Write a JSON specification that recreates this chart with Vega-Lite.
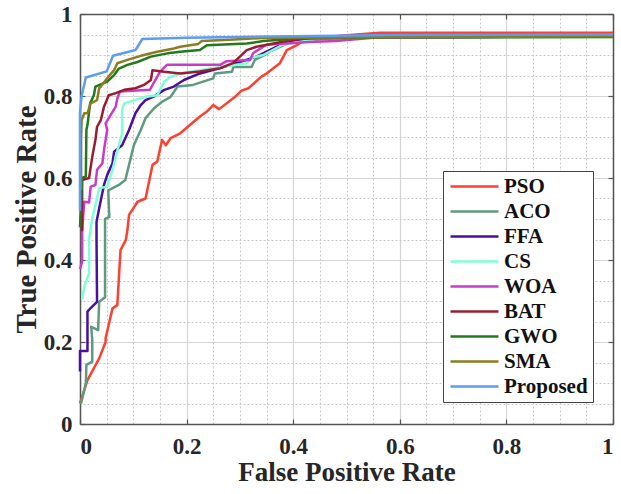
{
  "$schema": "https://vega.github.io/schema/vega-lite/v6.json",
  "width": 533,
  "height": 410,
  "autosize": {"type": "none"},
  "padding": {"left": 80, "top": 14, "right": 8, "bottom": 70},
  "background": "white",
  "config": {
    "view": {"stroke": null},
    "font": "Liberation Serif"
  },
  "data": {"values": [
    {"s":"PSO","i":1,"x":0,"y":0.05},{"s":"PSO","i":2,"x":0.014,"y":0.107},{"s":"PSO","i":3,"x":0.036,"y":0.16},{"s":"PSO","i":4,"x":0.048,"y":0.2},{"s":"PSO","i":5,"x":0.048,"y":0.209},{"s":"PSO","i":6,"x":0.061,"y":0.282},{"s":"PSO","i":7,"x":0.07,"y":0.29},{"s":"PSO","i":8,"x":0.076,"y":0.424},{"s":"PSO","i":9,"x":0.086,"y":0.449},{"s":"PSO","i":10,"x":0.089,"y":0.473},{"s":"PSO","i":11,"x":0.092,"y":0.51},{"s":"PSO","i":12,"x":0.108,"y":0.542},{"s":"PSO","i":13,"x":0.123,"y":0.55},{"s":"PSO","i":14,"x":0.136,"y":0.632},{"s":"PSO","i":15,"x":0.145,"y":0.64},{"s":"PSO","i":16,"x":0.154,"y":0.693},{"s":"PSO","i":17,"x":0.161,"y":0.68},{"s":"PSO","i":18,"x":0.17,"y":0.697},{"s":"PSO","i":19,"x":0.188,"y":0.709},{"s":"PSO","i":20,"x":0.225,"y":0.75},{"s":"PSO","i":21,"x":0.238,"y":0.762},{"s":"PSO","i":22,"x":0.25,"y":0.778},{"s":"PSO","i":23,"x":0.261,"y":0.768},{"s":"PSO","i":24,"x":0.291,"y":0.798},{"s":"PSO","i":25,"x":0.303,"y":0.813},{"s":"PSO","i":26,"x":0.316,"y":0.819},{"s":"PSO","i":27,"x":0.341,"y":0.848},{"s":"PSO","i":28,"x":0.35,"y":0.855},{"s":"PSO","i":29,"x":0.375,"y":0.88},{"s":"PSO","i":30,"x":0.388,"y":0.912},{"s":"PSO","i":31,"x":0.407,"y":0.924},{"s":"PSO","i":32,"x":0.422,"y":0.937},{"s":"PSO","i":33,"x":0.444,"y":0.942},{"s":"PSO","i":34,"x":0.5,"y":0.948},{"s":"PSO","i":35,"x":0.563,"y":0.954},{"s":"PSO","i":36,"x":1,"y":0.954},

    {"s":"ACO","i":1,"x":0.002,"y":0.05},{"s":"ACO","i":2,"x":0.011,"y":0.1},{"s":"ACO","i":3,"x":0.012,"y":0.144},{"s":"ACO","i":4,"x":0.023,"y":0.152},{"s":"ACO","i":5,"x":0.023,"y":0.205},{"s":"ACO","i":6,"x":0.021,"y":0.237},{"s":"ACO","i":7,"x":0.034,"y":0.229},{"s":"ACO","i":8,"x":0.036,"y":0.298},{"s":"ACO","i":9,"x":0.047,"y":0.309},{"s":"ACO","i":10,"x":0.047,"y":0.5},{"s":"ACO","i":11,"x":0.055,"y":0.505},{"s":"ACO","i":12,"x":0.053,"y":0.57},{"s":"ACO","i":13,"x":0.073,"y":0.583},{"s":"ACO","i":14,"x":0.085,"y":0.595},{"s":"ACO","i":15,"x":0.092,"y":0.632},{"s":"ACO","i":16,"x":0.101,"y":0.68},{"s":"ACO","i":17,"x":0.114,"y":0.717},{"s":"ACO","i":18,"x":0.123,"y":0.746},{"s":"ACO","i":19,"x":0.139,"y":0.77},{"s":"ACO","i":20,"x":0.154,"y":0.786},{"s":"ACO","i":21,"x":0.17,"y":0.798},{"s":"ACO","i":22,"x":0.183,"y":0.823},{"s":"ACO","i":23,"x":0.212,"y":0.827},{"s":"ACO","i":24,"x":0.231,"y":0.835},{"s":"ACO","i":25,"x":0.25,"y":0.843},{"s":"ACO","i":26,"x":0.253,"y":0.855},{"s":"ACO","i":27,"x":0.285,"y":0.859},{"s":"ACO","i":28,"x":0.288,"y":0.871},{"s":"ACO","i":29,"x":0.322,"y":0.871},{"s":"ACO","i":30,"x":0.328,"y":0.888},{"s":"ACO","i":31,"x":0.347,"y":0.9},{"s":"ACO","i":32,"x":0.356,"y":0.908},{"s":"ACO","i":33,"x":0.4,"y":0.935},{"s":"ACO","i":34,"x":0.5,"y":0.942},{"s":"ACO","i":35,"x":1,"y":0.946},

    {"s":"FFA","i":1,"x":0,"y":0.128},{"s":"FFA","i":2,"x":0,"y":0.178},{"s":"FFA","i":3,"x":0.014,"y":0.178},{"s":"FFA","i":4,"x":0.014,"y":0.274},{"s":"FFA","i":5,"x":0.018,"y":0.28},{"s":"FFA","i":6,"x":0.032,"y":0.298},{"s":"FFA","i":7,"x":0.031,"y":0.449},{"s":"FFA","i":8,"x":0.031,"y":0.493},{"s":"FFA","i":9,"x":0.036,"y":0.526},{"s":"FFA","i":10,"x":0.045,"y":0.583},{"s":"FFA","i":11,"x":0.051,"y":0.607},{"s":"FFA","i":12,"x":0.061,"y":0.636},{"s":"FFA","i":13,"x":0.064,"y":0.664},{"s":"FFA","i":14,"x":0.079,"y":0.68},{"s":"FFA","i":15,"x":0.092,"y":0.717},{"s":"FFA","i":16,"x":0.104,"y":0.758},{"s":"FFA","i":17,"x":0.114,"y":0.778},{"s":"FFA","i":18,"x":0.123,"y":0.79},{"s":"FFA","i":19,"x":0.139,"y":0.799},{"s":"FFA","i":20,"x":0.158,"y":0.815},{"s":"FFA","i":21,"x":0.176,"y":0.823},{"s":"FFA","i":22,"x":0.195,"y":0.839},{"s":"FFA","i":23,"x":0.225,"y":0.855},{"s":"FFA","i":24,"x":0.263,"y":0.868},{"s":"FFA","i":25,"x":0.3,"y":0.883},{"s":"FFA","i":26,"x":0.331,"y":0.896},{"s":"FFA","i":27,"x":0.35,"y":0.908},{"s":"FFA","i":28,"x":0.375,"y":0.924},{"s":"FFA","i":29,"x":0.407,"y":0.937},{"s":"FFA","i":30,"x":0.5,"y":0.942},{"s":"FFA","i":31,"x":1,"y":0.946},

    {"s":"CS","i":1,"x":0.004,"y":0.304},{"s":"CS","i":2,"x":0.008,"y":0.335},{"s":"CS","i":3,"x":0.017,"y":0.367},{"s":"CS","i":4,"x":0.017,"y":0.449},{"s":"CS","i":5,"x":0.023,"y":0.502},{"s":"CS","i":6,"x":0.032,"y":0.55},{"s":"CS","i":7,"x":0.036,"y":0.575},{"s":"CS","i":8,"x":0.051,"y":0.579},{"s":"CS","i":9,"x":0.061,"y":0.62},{"s":"CS","i":10,"x":0.067,"y":0.652},{"s":"CS","i":11,"x":0.073,"y":0.68},{"s":"CS","i":12,"x":0.079,"y":0.709},{"s":"CS","i":13,"x":0.079,"y":0.766},{"s":"CS","i":14,"x":0.083,"y":0.782},{"s":"CS","i":15,"x":0.123,"y":0.798},{"s":"CS","i":16,"x":0.145,"y":0.802},{"s":"CS","i":17,"x":0.158,"y":0.835},{"s":"CS","i":18,"x":0.17,"y":0.847},{"s":"CS","i":19,"x":0.188,"y":0.855},{"s":"CS","i":20,"x":0.244,"y":0.867},{"s":"CS","i":21,"x":0.281,"y":0.874},{"s":"CS","i":22,"x":0.313,"y":0.88},{"s":"CS","i":23,"x":0.322,"y":0.893},{"s":"CS","i":24,"x":0.344,"y":0.9},{"s":"CS","i":25,"x":0.38,"y":0.925},{"s":"CS","i":26,"x":0.45,"y":0.94},{"s":"CS","i":27,"x":0.6,"y":0.944},{"s":"CS","i":28,"x":1,"y":0.944},

    {"s":"WOA","i":1,"x":0,"y":0.378},{"s":"WOA","i":2,"x":0.004,"y":0.396},{"s":"WOA","i":3,"x":0.004,"y":0.473},{"s":"WOA","i":4,"x":0.008,"y":0.542},{"s":"WOA","i":5,"x":0.017,"y":0.54},{"s":"WOA","i":6,"x":0.02,"y":0.579},{"s":"WOA","i":7,"x":0.029,"y":0.583},{"s":"WOA","i":8,"x":0.032,"y":0.62},{"s":"WOA","i":9,"x":0.042,"y":0.636},{"s":"WOA","i":10,"x":0.045,"y":0.668},{"s":"WOA","i":11,"x":0.051,"y":0.717},{"s":"WOA","i":12,"x":0.048,"y":0.733},{"s":"WOA","i":13,"x":0.067,"y":0.774},{"s":"WOA","i":14,"x":0.07,"y":0.794},{"s":"WOA","i":15,"x":0.075,"y":0.811},{"s":"WOA","i":16,"x":0.131,"y":0.815},{"s":"WOA","i":17,"x":0.15,"y":0.859},{"s":"WOA","i":18,"x":0.163,"y":0.876},{"s":"WOA","i":19,"x":0.263,"y":0.876},{"s":"WOA","i":20,"x":0.275,"y":0.885},{"s":"WOA","i":21,"x":0.319,"y":0.888},{"s":"WOA","i":22,"x":0.325,"y":0.905},{"s":"WOA","i":23,"x":0.35,"y":0.925},{"s":"WOA","i":24,"x":0.43,"y":0.932},{"s":"WOA","i":25,"x":0.48,"y":0.934},{"s":"WOA","i":26,"x":0.55,"y":0.942},{"s":"WOA","i":27,"x":1,"y":0.946},

    {"s":"BAT","i":1,"x":0.004,"y":0.47},{"s":"BAT","i":2,"x":0.004,"y":0.595},{"s":"BAT","i":3,"x":0.017,"y":0.6},{"s":"BAT","i":4,"x":0.023,"y":0.652},{"s":"BAT","i":5,"x":0.029,"y":0.693},{"s":"BAT","i":6,"x":0.032,"y":0.725},{"s":"BAT","i":7,"x":0.039,"y":0.741},{"s":"BAT","i":8,"x":0.045,"y":0.774},{"s":"BAT","i":9,"x":0.054,"y":0.802},{"s":"BAT","i":10,"x":0.067,"y":0.807},{"s":"BAT","i":11,"x":0.083,"y":0.815},{"s":"BAT","i":12,"x":0.104,"y":0.819},{"s":"BAT","i":13,"x":0.12,"y":0.827},{"s":"BAT","i":14,"x":0.133,"y":0.839},{"s":"BAT","i":15,"x":0.136,"y":0.863},{"s":"BAT","i":16,"x":0.158,"y":0.859},{"s":"BAT","i":17,"x":0.188,"y":0.855},{"s":"BAT","i":18,"x":0.225,"y":0.86},{"s":"BAT","i":19,"x":0.263,"y":0.868},{"s":"BAT","i":20,"x":0.287,"y":0.88},{"s":"BAT","i":21,"x":0.3,"y":0.896},{"s":"BAT","i":22,"x":0.313,"y":0.912},{"s":"BAT","i":23,"x":0.331,"y":0.92},{"s":"BAT","i":24,"x":0.363,"y":0.928},{"s":"BAT","i":25,"x":0.4,"y":0.937},{"s":"BAT","i":26,"x":0.431,"y":0.941},{"s":"BAT","i":27,"x":0.6,"y":0.946},{"s":"BAT","i":28,"x":1,"y":0.948},

    {"s":"GWO","i":1,"x":0,"y":0.48},{"s":"GWO","i":2,"x":0.004,"y":0.6},{"s":"GWO","i":3,"x":0.011,"y":0.604},{"s":"GWO","i":4,"x":0.012,"y":0.717},{"s":"GWO","i":5,"x":0.014,"y":0.729},{"s":"GWO","i":6,"x":0.019,"y":0.782},{"s":"GWO","i":7,"x":0.026,"y":0.802},{"s":"GWO","i":8,"x":0.029,"y":0.823},{"s":"GWO","i":9,"x":0.051,"y":0.835},{"s":"GWO","i":10,"x":0.064,"y":0.851},{"s":"GWO","i":11,"x":0.073,"y":0.867},{"s":"GWO","i":12,"x":0.089,"y":0.876},{"s":"GWO","i":13,"x":0.108,"y":0.883},{"s":"GWO","i":14,"x":0.133,"y":0.896},{"s":"GWO","i":15,"x":0.164,"y":0.904},{"s":"GWO","i":16,"x":0.188,"y":0.908},{"s":"GWO","i":17,"x":0.225,"y":0.912},{"s":"GWO","i":18,"x":0.238,"y":0.924},{"s":"GWO","i":19,"x":0.313,"y":0.928},{"s":"GWO","i":20,"x":0.344,"y":0.934},{"s":"GWO","i":21,"x":0.407,"y":0.94},{"s":"GWO","i":22,"x":0.6,"y":0.943},{"s":"GWO","i":23,"x":1,"y":0.944},

    {"s":"SMA","i":1,"x":0.002,"y":0.57},{"s":"SMA","i":2,"x":0.002,"y":0.693},{"s":"SMA","i":3,"x":0.003,"y":0.741},{"s":"SMA","i":4,"x":0.008,"y":0.758},{"s":"SMA","i":5,"x":0.014,"y":0.758},{"s":"SMA","i":6,"x":0.02,"y":0.782},{"s":"SMA","i":7,"x":0.032,"y":0.79},{"s":"SMA","i":8,"x":0.036,"y":0.819},{"s":"SMA","i":9,"x":0.039,"y":0.823},{"s":"SMA","i":10,"x":0.054,"y":0.848},{"s":"SMA","i":11,"x":0.064,"y":0.863},{"s":"SMA","i":12,"x":0.07,"y":0.88},{"s":"SMA","i":13,"x":0.089,"y":0.888},{"s":"SMA","i":14,"x":0.114,"y":0.898},{"s":"SMA","i":15,"x":0.145,"y":0.908},{"s":"SMA","i":16,"x":0.176,"y":0.916},{"s":"SMA","i":17,"x":0.188,"y":0.92},{"s":"SMA","i":18,"x":0.222,"y":0.927},{"s":"SMA","i":19,"x":0.228,"y":0.934},{"s":"SMA","i":20,"x":0.281,"y":0.937},{"s":"SMA","i":21,"x":0.35,"y":0.942},{"s":"SMA","i":22,"x":1,"y":0.946},

    {"s":"Proposed","i":1,"x":0,"y":0.52},{"s":"Proposed","i":2,"x":0,"y":0.76},{"s":"Proposed","i":3,"x":0.003,"y":0.8},{"s":"Proposed","i":4,"x":0.011,"y":0.845},{"s":"Proposed","i":5,"x":0.05,"y":0.86},{"s":"Proposed","i":6,"x":0.062,"y":0.898},{"s":"Proposed","i":7,"x":0.104,"y":0.912},{"s":"Proposed","i":8,"x":0.117,"y":0.939},{"s":"Proposed","i":9,"x":0.2,"y":0.942},{"s":"Proposed","i":10,"x":0.4,"y":0.946},{"s":"Proposed","i":11,"x":0.6,"y":0.949},{"s":"Proposed","i":12,"x":1,"y":0.95}
  ]},
  "layer": [
    {
      "mark": {"type": "point", "opacity": 0},
      "encoding": {
        "x": {"field": "x", "type": "quantitative", "scale": {"domain": [0, 1], "nice": false, "zero": false},
          "axis": {"orient": "top", "values": [0,0.05,0.1,0.15,0.2,0.25,0.3,0.35,0.4,0.45,0.5,0.55,0.6,0.65,0.7,0.75,0.8,0.85,0.9,0.95,1],
            "labels": false, "title": null, "domain": true, "domainColor": "#555555", "domainWidth": 1.5,
            "grid": true, "gridColor": "#c8c8c8", "gridDash": [2, 2], "gridWidth": 1,
            "gridOpacity": {"condition": {"test": "round(datum.value*20) % 4 === 0", "value": 0}, "value": 1},
            "ticks": true, "tickSize": -5, "tickColor": "#555555", "tickWidth": 1.2,
            "tickOpacity": {"condition": {"test": "round(datum.value*20) % 4 === 0", "value": 1}, "value": 0}}},
        "y": {"field": "y", "type": "quantitative", "scale": {"domain": [0, 1], "nice": false, "zero": false},
          "axis": {"orient": "right", "values": [0,0.05,0.1,0.15,0.2,0.25,0.3,0.35,0.4,0.45,0.5,0.55,0.6,0.65,0.7,0.75,0.8,0.85,0.9,0.95,1],
            "labels": false, "title": null, "domain": true, "domainColor": "#555555", "domainWidth": 1.5,
            "grid": true, "gridColor": "#c8c8c8", "gridDash": [2, 2], "gridWidth": 1,
            "gridOpacity": {"condition": {"test": "round(datum.value*20) % 4 === 0", "value": 0}, "value": 1},
            "ticks": true, "tickSize": -5, "tickColor": "#555555", "tickWidth": 1.2,
            "tickOpacity": {"condition": {"test": "round(datum.value*20) % 4 === 0", "value": 1}, "value": 0}}}
      }
    },
    {
      "mark": {"type": "line", "strokeWidth": 2.5, "strokeJoin": "round"},
      "encoding": {
        "x": {"field": "x", "type": "quantitative", "scale": {"domain": [0, 1], "nice": false, "zero": false},
          "axis": {"orient": "bottom", "values": [0, 0.2, 0.4, 0.6, 0.8, 1], "title": "False Positive Rate",
            "titleFont": "Liberation Serif", "titleFontSize": 27, "titleFontWeight": "bold", "titleColor": "#262626", "titlePadding": 1,
            "labelFont": "Liberation Serif", "labelFontSize": 23, "labelFontWeight": "bold", "labelColor": "#262626", "labelPadding": 16,
            "labelExpr": "datum.value === 0 || datum.value === 1 ? format(datum.value, 'd') : format(datum.value, '.1f')",
            "domain": true, "domainColor": "#555555", "domainWidth": 1.5,
            "grid": true, "gridColor": "#d4d4d4", "gridWidth": 1.2,
            "ticks": true, "tickSize": -5, "tickColor": "#555555", "tickWidth": 1.2}},
        "y": {"field": "y", "type": "quantitative", "scale": {"domain": [0, 1], "nice": false, "zero": false},
          "axis": {"orient": "left", "values": [0, 0.2, 0.4, 0.6, 0.8, 1], "title": "True Positive Rate",
            "titleFont": "Liberation Serif", "titleFontSize": 29, "titleFontWeight": "bold", "titleColor": "#262626", "titlePadding": 2,
            "labelFont": "Liberation Serif", "labelFontSize": 23, "labelFontWeight": "bold", "labelColor": "#262626", "labelPadding": 13,
            "labelExpr": "datum.value === 0 || datum.value === 1 ? format(datum.value, 'd') : format(datum.value, '.1f')",
            "domain": true, "domainColor": "#555555", "domainWidth": 1.5,
            "grid": true, "gridColor": "#d4d4d4", "gridWidth": 1.2,
            "ticks": true, "tickSize": -5, "tickColor": "#555555", "tickWidth": 1.2}},
        "color": {"field": "s", "type": "nominal",
          "scale": {"domain": ["PSO","ACO","FFA","CS","WOA","BAT","GWO","SMA","Proposed"],
                    "range": ["#ff4030","#5f9a80","#4a0ea0","#7fffd4","#c83dc8","#9b1c31","#217a1c","#8c7d1f","#5d9cf2"]},
          "legend": {"title": null, "orient": "none", "legendX": 363, "legendY": 157,
            "symbolType": "M-1,0H5", "symbolSize": 256, "symbolStrokeWidth": 2.5,
            "labelFont": "Liberation Serif", "labelFontSize": 21, "labelFontWeight": "bold", "labelColor": "#111111",
            "labelOffset": 35, "rowPadding": 3, "padding": 5,
            "strokeColor": "#444444", "fillColor": "white"}},
        "order": {"field": "i", "type": "quantitative"}
      }
    }
  ],
  "resolve": {"axis": {"x": "independent", "y": "independent"}}
}
